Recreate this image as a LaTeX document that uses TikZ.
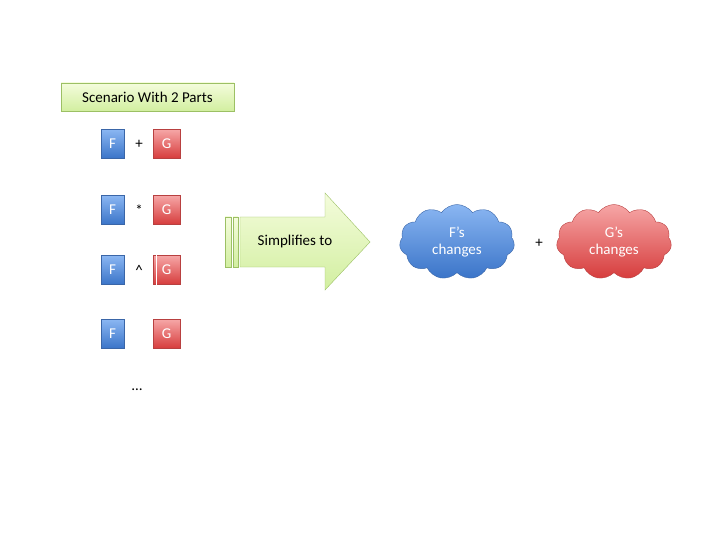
\documentclass[tikz,border=0pt]{standalone}
\usepackage{fontspec}
\setmainfont{Carlito}
\usetikzlibrary{shapes.symbols}
\definecolor{btop}{HTML}{8AB6F2}\definecolor{bbot}{HTML}{3A74C8}\definecolor{bdr}{HTML}{3A66A8}
\definecolor{rtop}{HTML}{F6A6A6}\definecolor{rbot}{HTML}{D63C3C}\definecolor{rdr}{HTML}{B84040}
\definecolor{gtop}{HTML}{F4FCDC}\definecolor{gbot}{HTML}{D2EFA0}\definecolor{gdr}{HTML}{9CC064}
\tikzset{x=1pt,y=-1pt,
 fbox/.style={draw=bdr,top color=btop,bottom color=bbot,minimum width=23pt,minimum height=29pt,text=white,font=\fontsize{15}{15}\selectfont,inner sep=0pt},
 gbox/.style={draw=rdr,top color=rtop,bottom color=rbot,minimum width=27pt,minimum height=29pt,text=white,font=\fontsize{15}{15}\selectfont,inner sep=0pt},
 op/.style={font=\fontsize{15}{15}\selectfont,inner sep=0pt},
 cl/.style={cloud,cloud puffs=11,cloud puff arc=110,aspect=1.6,minimum width=115pt,minimum height=75pt,text=white,align=center,font=\fontsize{15}{17}\selectfont,inner sep=0pt},
 lbl/.style={font=\fontsize{15}{15}\selectfont}}
\begin{document}
\begin{tikzpicture}
\useasboundingbox (0,0) rectangle (720,540);
\node[draw=gdr,top color=gtop,bottom color=gbot,minimum width=173pt,minimum height=28pt,font=\fontsize{15}{15}\selectfont,inner sep=0pt] (title) at (147.5,97) {Scenario With 2 Parts};
\foreach \y/\o/\n in {144/+/1,210/*/2,270/\textasciicircum/3,334/\fontsize{18}{18}\selectfont//4}{
 \node[fbox] (f\n) at (112.5,\y) {F};
 \node[op] (o\n) at (139,\y) {\o};
 \node[gbox] (g\n) at (166.5,\y) {G};
}
\draw[white,line width=0.8pt] ([xshift=4pt]g3.north west) -- ([xshift=4pt]g3.south west);
\node[op] (dots) at (137,390) {\dots};
\draw[gdr,top color=gtop,bottom color=gbot] (225,217) rectangle (231,267);
\draw[gdr,top color=gtop,bottom color=gbot] (233,217) rectangle (238,267);
\draw[gdr,top color=gtop,bottom color=gbot] (240,217) -- (325,217) -- (325,193) -- (370,242) -- (325,290) -- (325,267) -- (240,267) -- cycle;
\node[lbl] (simp) at (295,242) {Simplifies to};
\node[cl,draw=bdr,top color=btop,bottom color=bbot] (fc) at (457,242) {F's\\changes};
\node[op] (plus) at (539,243) {+};
\node[cl,draw=rdr,top color=rtop,bottom color=rbot] (gc) at (614,242) {G's\\changes};
\end{tikzpicture}
\end{document}
